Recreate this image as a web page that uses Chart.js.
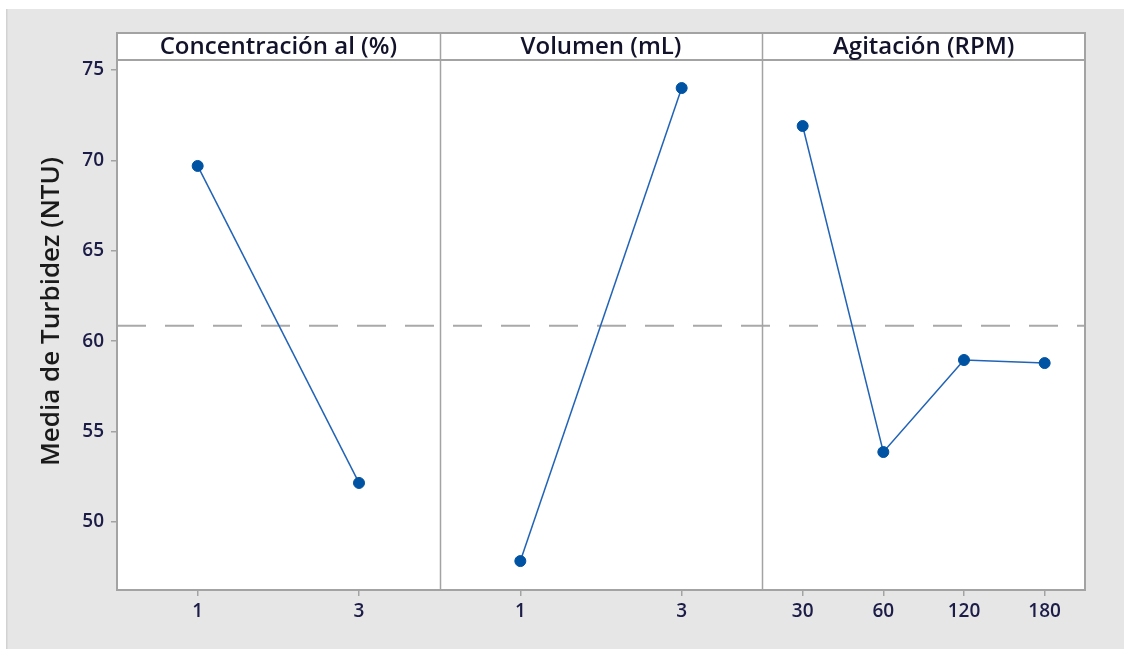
<!DOCTYPE html>
<html>
<head>
<meta charset="utf-8">
<script src="https://cdn.jsdelivr.net/npm/chart.js@4/dist/chart.umd.min.js"></script>
<style>
  html, body { margin: 0; padding: 0; background: #ffffff; }
  #wrap { width: 1124px; height: 649px; position: relative; }
</style>
</head>
<body>
<div id="wrap"><canvas id="c" width="1124" height="649"></canvas></div>
<script>
// Main effects plot for turbidity: one panel per factor, level means joined by a line.
const factorNames = ['Concentración al (%)', 'Volumen (mL)', 'Agitación (RPM)'];

const concLevels = ['1', '3'];
const concMeans = [69.69, 52.16];

const volLevels = ['1', '3'];
const volMeans = [47.84, 74.0];

const agitLevels = ['30', '60', '120', '180'];
const agitMeans = [71.9, 53.87, 58.96, 58.79];

const grandMean = 60.86;

const yTicks = [50, 55, 60, 65, 70, 75];
const yTitle = 'Media de Turbidez (NTU)';

const panels = [
  { levels: concLevels, means: concMeans },
  { levels: volLevels, means: volMeans },
  { levels: agitLevels, means: agitMeans }
];

// Each panel occupies one unit of the shared x scale; levels sit at category centres.
const tickPos = [];
const tickText = [];
const datasets = [];
panels.forEach((p, pi) => {
  const pts = p.levels.map((lv, i) => {
    const x = pi + (i + 0.5) / p.levels.length;
    tickPos.push(x);
    tickText.push(lv);
    return { x: x, y: p.means[i] };
  });
  datasets.push({
    data: pts,
    borderColor: '#2163b6',
    borderWidth: 1.5,
    pointBackgroundColor: '#0052a3',
    pointBorderColor: '#0052a3',
    pointRadius: 5.5,
    pointBorderWidth: 1,
    pointStyle: 'circle',
    tension: 0,
    order: 1
  });
});

// reference line at the overall mean
datasets.push({
  data: [{ x: 0, y: grandMean }, { x: panels.length, y: grandMean }],
  borderColor: '#a9a9a9',
  borderWidth: 2,
  borderDash: [29, 19],
  pointRadius: 0,
  order: 2
});

const FONT = '"Open Sans", "Noto Sans", sans-serif';
const FRAME = '#a3a3a3';
const TOP_FRAME = 33;

const framePlugin = {
  id: 'frame',
  beforeDraw(chart) {
    const ctx = chart.ctx;
    ctx.save();
    ctx.fillStyle = '#ffffff';
    ctx.fillRect(0, 0, chart.width, chart.height);
    ctx.fillStyle = '#e6e6e6';
    ctx.fillRect(6, 9, chart.width - 6, chart.height - 9);
    ctx.fillStyle = '#d2d2d2';
    ctx.fillRect(6, 9, 1.5, chart.height - 9);
    const a = chart.chartArea;
    ctx.fillStyle = '#ffffff';
    ctx.fillRect(a.left, TOP_FRAME, a.right - a.left, a.bottom - TOP_FRAME);
    ctx.restore();
  },
  afterDatasetsDraw(chart) {
    const ctx = chart.ctx;
    const a = chart.chartArea;
    const xs = chart.scales.x;
    ctx.save();
    ctx.strokeStyle = FRAME;
    ctx.lineWidth = 2;
    ctx.strokeRect(a.left, TOP_FRAME, a.right - a.left, a.bottom - TOP_FRAME);
    ctx.beginPath();
    ctx.moveTo(a.left, a.top);
    ctx.lineTo(a.right, a.top);
    ctx.stroke();
    ctx.lineWidth = 1.5;
    for (let i = 1; i < panels.length; i++) {
      const px = Math.round(xs.getPixelForValue(i)) + 0.5;
      ctx.beginPath();
      ctx.moveTo(px, TOP_FRAME);
      ctx.lineTo(px, a.bottom);
      ctx.stroke();
    }
    // panel headers
    ctx.fillStyle = '#12122a';
    ctx.font = '600 24px ' + FONT;
    ctx.textAlign = 'center';
    ctx.textBaseline = 'middle';
    factorNames.forEach((name, i) => {
      const cx = (xs.getPixelForValue(i) + xs.getPixelForValue(i + 1)) / 2;
      ctx.fillText(name, cx, (TOP_FRAME + a.top) / 2 + 0.5);
    });
    // y axis title, centred on the whole frame
    ctx.translate(52, (TOP_FRAME + a.bottom) / 2);
    ctx.rotate(-Math.PI / 2);
    ctx.font = '600 26px ' + FONT;
    ctx.fillStyle = '#1a1a1a';
    ctx.fillText(yTitle, 0, 0);
    ctx.restore();
  }
};

new Chart(document.getElementById('c'), {
  type: 'line',
  data: { datasets: datasets },
  options: {
    responsive: false,
    animation: false,
    events: [],
    layout: { padding: { left: 0, top: 60, right: 39, bottom: 0 } },
    plugins: { legend: { display: false }, tooltip: { enabled: false } },
    scales: {
      x: {
        type: 'linear',
        min: 0,
        max: panels.length,
        afterFit(s) { s.height = 59; },
        afterBuildTicks(s) { s.ticks = tickPos.map(v => ({ value: v })); },
        ticks: {
          callback(v) {
            const i = tickPos.findIndex(t => Math.abs(t - v) < 1e-6);
            return i >= 0 ? tickText[i] : '';
          },
          autoSkip: false,
          maxRotation: 0,
          minRotation: 0,
          padding: 4,
          color: '#1c1c48',
          font: { family: FONT, size: 19, weight: '600' }
        },
        grid: { drawOnChartArea: false, drawTicks: true, tickLength: 6, color: FRAME, lineWidth: 1.5 },
        border: { display: false }
      },
      y: {
        type: 'linear',
        min: 46.24,
        max: 75.55,
        afterFit(s) { s.width = 117; },
        afterBuildTicks(s) { s.ticks = yTicks.map(v => ({ value: v })); },
        ticks: {
          padding: 7,
          color: '#1c1c48',
          font: { family: FONT, size: 19, weight: '600' }
        },
        grid: { drawOnChartArea: false, drawTicks: true, tickLength: 6, color: FRAME, lineWidth: 1.5 },
        border: { display: false }
      }
    }
  },
  plugins: [framePlugin]
});
</script>
</body>
</html>
